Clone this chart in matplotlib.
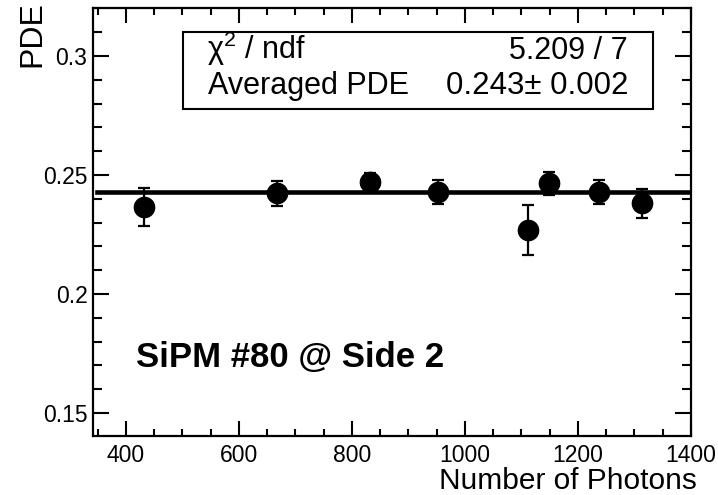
import matplotlib
matplotlib.use("Agg")
import matplotlib.pyplot as plt
from matplotlib.ticker import MultipleLocator, FuncFormatter
from matplotlib.patches import Rectangle

plt.rcParams['font.family'] = ['Liberation Sans', 'DejaVu Sans']
plt.rcParams['mathtext.fontset'] = 'custom'
plt.rcParams['mathtext.rm'] = 'Liberation Sans'
plt.rcParams['mathtext.it'] = 'Liberation Sans'

# Data
n_photons = [432, 667, 832, 953, 1111, 1149, 1238, 1313]
pde = [0.2367, 0.2423, 0.2471, 0.2429, 0.2269, 0.2465, 0.2428, 0.2381]
pde_err = [0.0080, 0.0053, 0.0038, 0.0052, 0.0105, 0.0048, 0.0051, 0.0061]
fit_range = [349, 1395]
fit_value = 0.243
chi2_text = "5.209 / 7"
avg_text = "0.243\u00b1 0.002"
label_text = "SiPM #80 @ Side 2"

W, H = 718, 495
fig = plt.figure(figsize=(W / 100, H / 100), dpi=100)
fig.patch.set_facecolor('white')

L, R, T, B = 93, 691, 7.5, 436
ax = fig.add_axes([L / W, (H - B) / H, (R - L) / W, (B - T) / H])
ax.set_xlim(341.6, 1400)
ax.set_ylim(0.1403, 0.3204)

ax.errorbar(n_photons, pde, yerr=pde_err, fmt='o', color='black',
            markersize=14.6, elinewidth=1.6, capsize=4.5, capthick=1.6, zorder=3)
ax.plot(fit_range, [fit_value, fit_value], color='black', lw=3.3, zorder=2)

ax.xaxis.set_major_locator(MultipleLocator(200))
ax.xaxis.set_minor_locator(MultipleLocator(50))
ax.yaxis.set_major_locator(MultipleLocator(0.05))
ax.yaxis.set_minor_locator(MultipleLocator(0.01))
ax.yaxis.set_major_formatter(FuncFormatter(lambda v, p: '%g' % round(v, 4)))
ax.xaxis.set_major_formatter(FuncFormatter(lambda v, p: '%d' % round(v)))

ax.tick_params(which='both', direction='in', top=True, right=True, width=1.5,
               labelsize=16.5, colors='black')
ax.tick_params(axis='x', which='major', length=10.5, pad=6)
ax.tick_params(axis='x', which='minor', length=5)
ax.tick_params(axis='y', which='major', length=11.5, pad=4)
ax.tick_params(axis='y', which='minor', length=6.5)
for s in ax.spines.values():
    s.set_linewidth(1.6)

# axis titles
fig.text(697 / W, (H - 489) / H, "Number of Photons", ha='right', va='baseline',
         fontsize=21.5)
fig.text(32 / W, (H - 67) / H, "PDE", rotation=90, ha='center', va='bottom',
         fontsize=23)

# stats box
bx0, bx1, by0, by1 = 183, 653, 32, 109
fig.patches.append(Rectangle((bx0 / W, (H - by1) / H), (bx1 - bx0) / W, (by1 - by0) / H,
                             transform=fig.transFigure, fill=False,
                             edgecolor='black', linewidth=1.5))
fig.text(207 / W, (H - 59) / H, "\u03c7$^{2}$ / ndf", ha='left', va='baseline', fontsize=22)
fig.text(628 / W, (H - 59) / H, chi2_text, ha='right', va='baseline', fontsize=22)
fig.text(208 / W, (H - 94) / H, "Averaged PDE", ha='left', va='baseline', fontsize=22)
fig.text(629 / W, (H - 94) / H, avg_text, ha='right', va='baseline', fontsize=22.5)

# label
fig.text(136 / W, (H - 367) / H, label_text, ha='left', va='baseline',
         fontsize=25, fontweight='bold')

fig.savefig("out.png", dpi=100, facecolor='white')
